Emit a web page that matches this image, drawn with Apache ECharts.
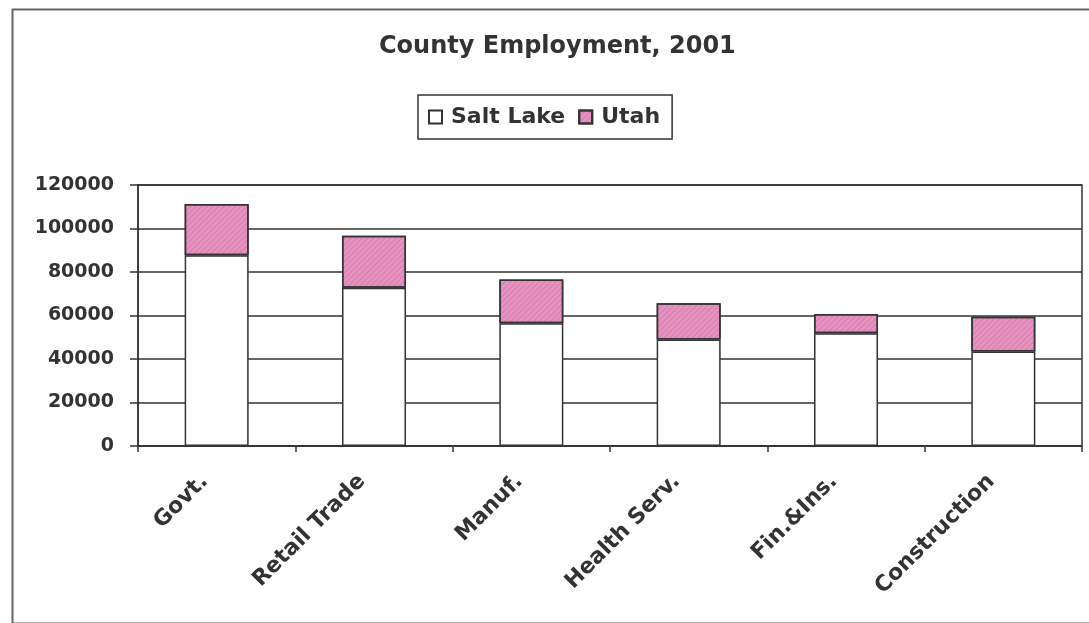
<!DOCTYPE html>
<html>
<head>
<meta charset="utf-8">
<script src="https://cdn.jsdelivr.net/npm/echarts@6/dist/echarts.min.js"></script>
<style>
html,body{margin:0;padding:0;background:#fff;}
#chart{width:1089px;height:623px;}
</style>
</head>
<body>
<div id="chart"></div>
<script>
const categories = ['Govt.', 'Retail Trade', 'Manuf.', 'Health Serv.', 'Fin.&Ins.', 'Construction'];
const saltLake = [87700, 72800, 56400, 49000, 51800, 43400];
const utah = [23600, 23900, 20200, 16600, 8900, 16000];
const yTicks = [0, 20000, 40000, 60000, 80000, 100000, 120000];

const FONT = 'DejaVu Sans';
const INK = '#333333';

const chart = echarts.init(document.getElementById('chart'), null, {renderer: 'canvas'});
chart.setOption({
  animation: false,
  backgroundColor: '#ffffff',
  title: {
    text: 'County Employment, 2001',
    left: 379,
    top: 35,
    padding: 0,
    textStyle: {fontFamily: FONT, fontWeight: 'bold', fontSize: 24, color: INK}
  },
  legend: {
    data: ['Salt Lake', 'Utah'],
    left: 418,
    top: 95,
    orient: 'horizontal',
    padding: [11, 12, 11, 10],
    itemGap: 13,
    itemWidth: 13,
    itemHeight: 13,
    icon: 'rect',
    borderColor: INK,
    borderWidth: 1.5,
    textStyle: {fontFamily: FONT, fontWeight: 'bold', fontSize: 22, color: INK, padding: [0, 0, 0, 4]}
  },
  grid: {
    left: 138, right: 7, top: 185, bottom: 177,
    show: true,
    borderColor: INK,
    borderWidth: 1.5,
    backgroundColor: 'transparent'
  },
  xAxis: {
    type: 'category',
    data: categories,
    boundaryGap: true,
    axisLine: {show: true, lineStyle: {color: INK, width: 1.5}},
    axisTick: {show: true, alignWithLabel: false, length: 6, lineStyle: {color: INK, width: 1.5}},
    axisLabel: {
      rotate: 45,
      margin: 20,
      interval: 0,
      padding: [0, 17, 0, 0],
      fontFamily: FONT, fontWeight: 'bold', fontSize: 22, color: INK
    },
    splitLine: {show: false}
  },
  yAxis: {
    type: 'value',
    min: 0,
    max: 120000,
    interval: 20000,
    axisLine: {show: true, lineStyle: {color: INK, width: 1.5}},
    axisTick: {show: true, inside: false, length: 8, lineStyle: {color: INK, width: 1.5}},
    axisLabel: {
      margin: 24,
      fontFamily: FONT, fontWeight: 'bold', fontSize: 19, color: INK,
      formatter: function (v) { return yTicks.indexOf(v) >= 0 ? String(v) : ''; }
    },
    splitLine: {show: true, lineStyle: {color: INK, width: 1.5}}
  },
  series: [
    {
      name: 'Salt Lake',
      type: 'bar',
      stack: 'total',
      data: saltLake,
      barWidth: 64,
      itemStyle: {color: '#ffffff', borderColor: INK, borderWidth: 1.5}
    },
    {
      name: 'Utah',
      type: 'bar',
      stack: 'total',
      data: utah,
      barWidth: 64,
      itemStyle: {
        color: '#E592C0', borderColor: INK, borderWidth: 1.5,
        decal: {
          symbol: 'rect',
          symbolSize: 1,
          dashArrayX: [[1, 0]],
          dashArrayY: [1, 3],
          rotation: -Math.PI / 4,
          color: 'rgba(190,80,140,0.35)'
        }
      }
    }
  ],
  graphic: [
    {
      type: 'rect',
      left: 10, top: 7,
      shape: {width: 1100, height: 614},
      style: {fill: 'none', stroke: '#666666', lineWidth: 2},
      silent: true,
      z: -1
    }
  ]
});
</script>
</body>
</html>
